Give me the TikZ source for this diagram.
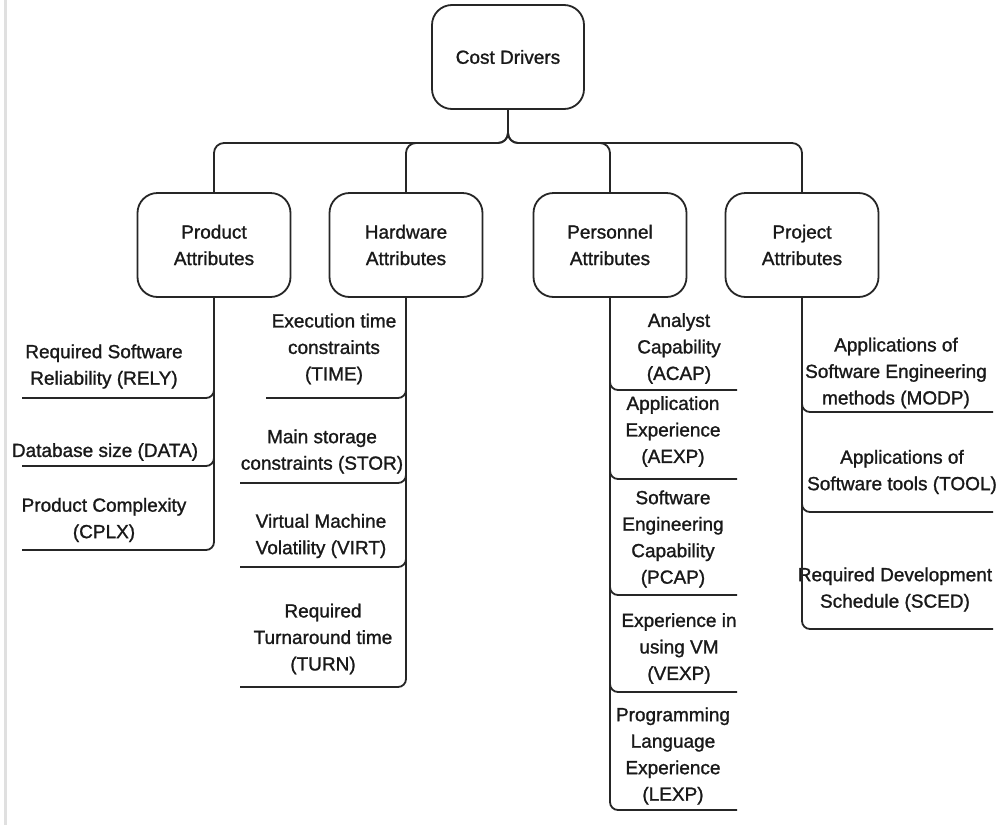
\documentclass[tikz,border=0pt]{standalone}
\usepackage{fontspec}
\setmainfont{Liberation Sans}[FakeBold=1.2]
\begin{document}
\begin{tikzpicture}[x=1pt,y=-1pt,
  box/.style={draw=black!85, line width=1.8pt, rounded corners=20pt,
    minimum width=153pt, minimum height=104pt, align=center, inner sep=0pt,
    font=\fontsize{19}{26.5}\selectfont, text=black!90},
  leaf/.style={align=center, inner sep=0pt,
    font=\fontsize{19}{26.5}\selectfont, text=black!90},
  conn/.style={draw=black!85, line width=1.8pt, rounded corners=10pt},
  uline/.style={draw=black!85, line width=1.8pt, rounded corners=8pt}]
\useasboundingbox (0,0) rectangle (1007,825);
\fill[white] (0,0) rectangle (1007,825);
\draw[black!12, line width=3pt] (5,0) -- (5,825);

% root and the four attribute groups
\node[box, minimum width=152pt] (cost) at (508,57) {Cost Drivers};
\node[box] (prod) at (214,245) {Product\\Attributes};
\node[box] (hw)   at (406,245) {Hardware\\Attributes};
\node[box] (pers) at (610,245) {Personnel\\Attributes};
\node[box] (proj) at (802,245) {Project\\Attributes};

\coordinate (bus) at (508,143);
\foreach \g in {prod,hw,pers,proj}
  \draw[conn] (cost.south) -- (bus) -| (\g.north);

% product attributes
\node[leaf] (rely) at (104,366.5) {Required Software\\Reliability (RELY)};
\node[leaf] (data) at (105,452) {Database size (DATA)};
\node[leaf] (cplx) at (104,520) {Product Complexity\\(CPLX)};
\coordinate (rely-e) at (22,398);
\coordinate (data-e) at (22,466);
\coordinate (cplx-e) at (22,550);

% hardware attributes
\node[leaf] (time) at (334,349) {Execution time\\constraints\\(TIME)};
\node[leaf] (stor) at (322,451.5) {Main storage\\constraints (STOR)};
\node[leaf] (virt) at (321,536) {Virtual Machine\\Volatility (VIRT)};
\node[leaf] (turn) at (323,639) {Required\\Turnaround time\\(TURN)};
\coordinate (time-e) at (266,398);
\coordinate (stor-e) at (240,483);
\coordinate (virt-e) at (240,567);
\coordinate (turn-e) at (240,687);

% personnel attributes
\node[leaf] (acap) at (679,348.5) {Analyst\\Capability\\(ACAP)};
\node[leaf] (aexp) at (673,431.5) {Application\\Experience\\(AEXP)};
\node[leaf] (pcap) at (673,539) {Software\\Engineering\\Capability\\(PCAP)};
\node[leaf] (vexp) at (679,648.5) {Experience in\\using VM\\(VEXP)};
\node[leaf] (lexp) at (673,756) {Programming\\Language\\Experience\\(LEXP)};
\coordinate (acap-e) at (737,390);
\coordinate (aexp-e) at (737,479);
\coordinate (pcap-e) at (737,595);
\coordinate (vexp-e) at (737,692);
\coordinate (lexp-e) at (737,810);

% project attributes
\node[leaf] (modp) at (896,373) {Applications of\\Software Engineering\\methods (MODP)};
\node[leaf] (tool) at (902,472) {Applications of\\Software tools (TOOL)};
\node[leaf] (sced) at (895,589.5) {Required Development\\Schedule (SCED)};
\coordinate (modp-e) at (993,412);
\coordinate (tool-e) at (993,512);
\coordinate (sced-e) at (993,629);

% branches ending in the underlines of each driver
\foreach \d in {rely,data,cplx} \draw[uline] (prod.south) |- (\d-e);
\foreach \d in {time,stor,virt,turn} \draw[uline] (hw.south) |- (\d-e);
\foreach \d in {acap,aexp,pcap,vexp,lexp} \draw[uline] (pers.south) |- (\d-e);
\foreach \d in {modp,tool,sced} \draw[uline] (proj.south) |- (\d-e);
\end{tikzpicture}
\end{document}
